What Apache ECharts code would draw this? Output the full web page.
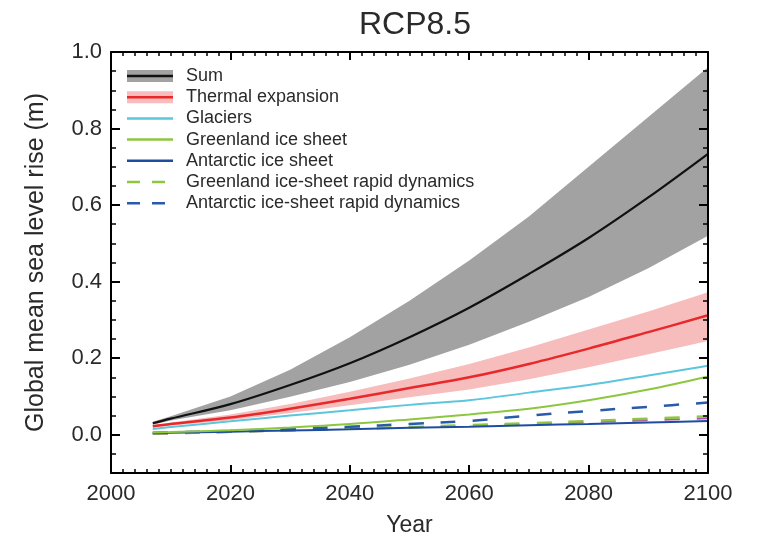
<!DOCTYPE html>
<html>
<head>
<meta charset="utf-8">
<script src="https://cdn.jsdelivr.net/npm/echarts@6/dist/echarts.min.js"></script>
<style>
html,body{margin:0;padding:0;background:#fff;}
#chart{width:758px;height:542px;}
</style>
</head>
<body>
<div id="chart"></div>
<script>
// ---- data ----
var years        = [2007, 2010, 2020, 2030, 2040, 2050, 2060, 2070, 2080, 2090, 2100];
var sumMid       = [0.030, 0.042, 0.080, 0.130, 0.187, 0.255, 0.332, 0.420, 0.514, 0.620, 0.734];
var sumHigh      = [0.034, 0.048, 0.100, 0.170, 0.255, 0.350, 0.455, 0.570, 0.700, 0.830, 0.960];
var sumLow       = [0.026, 0.037, 0.064, 0.099, 0.138, 0.183, 0.235, 0.295, 0.360, 0.435, 0.520];
var thermalMid   = [0.022, 0.028, 0.045, 0.068, 0.094, 0.122, 0.150, 0.185, 0.225, 0.268, 0.312];
var thermalHigh  = [0.025, 0.032, 0.053, 0.080, 0.112, 0.147, 0.185, 0.228, 0.275, 0.322, 0.372];
var thermalLow   = [0.019, 0.024, 0.038, 0.057, 0.077, 0.098, 0.118, 0.145, 0.176, 0.210, 0.245];
var glaciers     = [0.015, 0.020, 0.035, 0.050, 0.064, 0.078, 0.090, 0.110, 0.130, 0.155, 0.180];
var greenland    = [0.006, 0.007, 0.012, 0.019, 0.028, 0.040, 0.053, 0.068, 0.090, 0.118, 0.152];
var antarctic    = [0.004, 0.005, 0.008, 0.011, 0.014, 0.018, 0.021, 0.025, 0.028, 0.032, 0.036];
var greenlandRD  = [0.003, 0.004, 0.008, 0.012, 0.016, 0.020, 0.025, 0.030, 0.036, 0.042, 0.048];
var antarcticRD  = [0.005, 0.006, 0.010, 0.015, 0.021, 0.028, 0.036, 0.050, 0.062, 0.073, 0.084];
var landWater    = [0.002, 0.003, 0.007, 0.011, 0.015, 0.019, 0.023, 0.028, 0.033, 0.038, 0.043];

var yLabelValues = [0, 0.2, 0.4, 0.6, 0.8, 1.0];
var legendNames  = ['Sum', 'Thermal expansion', 'Glaciers', 'Greenland ice sheet', 'Antarctic ice sheet',
                    'Greenland ice-sheet rapid dynamics', 'Antarctic ice-sheet rapid dynamics'];
var titleText = 'RCP8.5';
var xName = 'Year';
var yName = 'Global mean sea level rise (m)';

// ---- styles ----
var FONT = "'Liberation Sans', Arial, Helvetica, sans-serif";
var TXT = '#2a2a2a';
var C = {
  sumBand: '#a2a2a2', sum: '#111111',
  thBand: '#f7bcbc', th: '#e8292b',
  gl: '#5cc6dc', gr: '#8dc63f', an: '#1e4da0',
  grRD: '#8dc63f', anRD: '#2a5ba8', lw: '#b353b5'
};

function pairs(arr){ return years.map(function(y,i){ return [y, arr[i]]; }); }

function lineSeries(name, arr, color, width, dash, z){
  return {
    type: 'line', name: name, data: pairs(arr), smooth: 0.35, symbol: 'none',
    lineStyle: {color: color, width: width, type: dash || 'solid'},
    z: z || 3, silent: true, animation: false
  };
}
function bandSeries(low, high, color){
  return {
    type: 'custom', silent: true, animation: false, z: 1, clip: true,
    data: years.map(function(y,i){ return [y, low[i], high[i]]; }),
    encode: {x: 0, y: [1, 2]},
    renderItem: function(params, api){
      if (params.dataIndex !== 0) return null;
      var pts = [];
      for (var i = 0; i < years.length; i++) pts.push(api.coord([years[i], high[i]]));
      for (var j = years.length - 1; j >= 0; j--) pts.push(api.coord([years[j], low[j]]));
      return {type: 'polygon', shape: {points: pts}, style: {fill: color, stroke: null}};
    }
  };
}

var series = [
  bandSeries(sumLow, sumHigh, C.sumBand),
  bandSeries(thermalLow, thermalHigh, C.thBand),
  lineSeries('landWater', landWater, C.lw, 2, [15,17], 3),
  lineSeries('Greenland ice-sheet rapid dynamics', greenlandRD, C.grRD, 2.5, [15,17], 3),
  lineSeries('Antarctic ice-sheet rapid dynamics', antarcticRD, C.anRD, 2.5, [15,17], 3),
  lineSeries('Antarctic ice sheet', antarctic, C.an, 2, null, 4),
  lineSeries('Greenland ice sheet', greenland, C.gr, 2, null, 4),
  lineSeries('Glaciers', glaciers, C.gl, 2, null, 4),
  lineSeries('Thermal expansion', thermalMid, C.th, 2.5, null, 4),
  lineSeries('Sum', sumMid, C.sum, 2.2, null, 5)
];

// ---- legend as graphic ----
var legendStyles = [
  {band: C.sumBand, color: C.sum, dash: null},
  {band: C.thBand, color: C.th, dash: null},
  {color: C.gl, dash: null},
  {color: C.gr, dash: null},
  {color: C.an, dash: null},
  {color: C.grRD, dash: [13,12]},
  {color: C.anRD, dash: [13,12]}
];
var graphics = [];
legendNames.forEach(function(n, i){
  var y = 76 + i * 21.2;
  var st = legendStyles[i];
  if (st.band) {
    graphics.push({type:'rect', shape:{x:127, y:y-6, width:46, height:12}, style:{fill: st.band}, z: 10});
  }
  graphics.push({type:'line', shape:{x1:127, y1:y, x2:173, y2:y},
    style:{stroke: st.color, lineWidth: 2.5, lineDash: st.dash || null}, z: 11});
  graphics.push({type:'text', x:186, y:y, style:{text: n, font: '18px ' + FONT, fill: TXT,
    verticalAlign:'middle'}, z: 11});
});

var tickStyle = {color:'#000', width: 2};
var xBase = {type:'value', min:2000, max:2100, interval:20, splitLine:{show:false}, z: 10,
  axisLine:{show:true, onZero:false, lineStyle:{color:'#000', width:2}},
  axisTick:{show:true, inside:true, length:8, lineStyle: tickStyle},
  minorTick:{show:true, splitNumber:10, length:4, lineStyle:{color:'#000', width:1.5}}};

var option = {
  backgroundColor: '#fff',
  animation: false,
  title: {text: titleText, left: 410, textAlign: 'center', top: 4,
    textStyle: {fontFamily: FONT, fontSize: 32, fontWeight: 'normal', color: TXT}},
  grid: {left: 111, right: 50, top: 52, bottom: 64, containLabel: false},
  xAxis: [
    Object.assign({}, xBase, {position:'bottom',
      name: xName, nameLocation:'middle', nameGap: 41,
      nameTextStyle:{fontFamily: FONT, fontSize: 23, color: TXT},
      axisLabel:{show:true, margin: 10, fontFamily: FONT, fontSize: 22, color: TXT,
        formatter: function(v){ return String(v); }}}),
    Object.assign({}, xBase, {position:'top', axisLabel:{show:false}})
  ],
  yAxis: [
    {type:'value', min:-0.1, max:1.0, interval:0.05, position:'left', splitLine:{show:false}, z: 10,
     name: yName, nameLocation:'middle', nameGap: 62, nameRotate: 90,
     nameTextStyle:{fontFamily: FONT, fontSize: 25, color: TXT},
     axisLine:{show:true, onZero:false, lineStyle:{color:'#000', width:2}},
     axisTick:{show:true, inside:true, length:5, lineStyle:{color:'#000', width:1.5}},
     axisLabel:{show:true, customValues: yLabelValues, margin: 9, fontFamily: FONT, fontSize: 22, color: TXT,
       formatter: function(v){ return v.toFixed(1); }}},
    {type:'value', min:-0.1, max:1.0, position:'left', splitLine:{show:false}, z: 10,
     axisLine:{show:false}, axisLabel:{show:false},
     axisTick:{show:true, inside:true, length:9, customValues: yLabelValues, lineStyle: tickStyle}},
    {type:'value', min:-0.1, max:1.0, interval:0.05, position:'right', splitLine:{show:false}, z: 10,
     axisLine:{show:true, onZero:false, lineStyle:{color:'#000', width:2}},
     axisLabel:{show:false},
     axisTick:{show:true, inside:true, length:5, lineStyle:{color:'#000', width:1.5}}},
    {type:'value', min:-0.1, max:1.0, position:'right', splitLine:{show:false}, z: 10,
     axisLine:{show:false}, axisLabel:{show:false},
     axisTick:{show:true, inside:true, length:9, customValues: yLabelValues, lineStyle: tickStyle}}
  ],
  graphic: graphics,
  series: series
};

var chart = echarts.init(document.getElementById('chart'), null, {renderer:'canvas'});
chart.setOption(option);
</script>
</body>
</html>
